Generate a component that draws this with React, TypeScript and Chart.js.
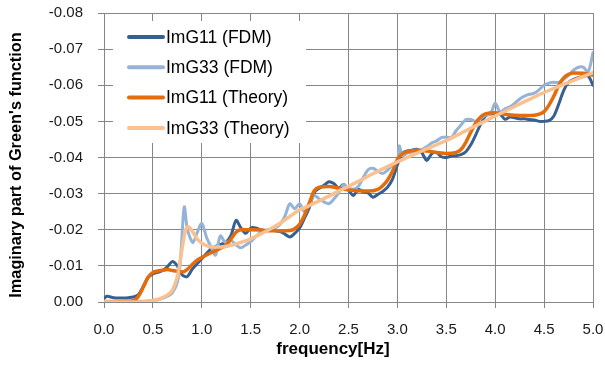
import { useEffect, useRef } from 'react';
import { Chart, registerables } from 'chart.js';

Chart.register(...registerables);

const FONT = '"Liberation Sans", Arial, sans-serif';

const xTitle = 'frequency[Hz]';
const yTitle = "Imaginary part of Green's function";
const seriesLabels = ['ImG11 (FDM)', 'ImG33 (FDM)', 'ImG11 (Theory)', 'ImG33 (Theory)'];
const seriesColors = ['#376092', '#95B3D7', '#E46C0A', '#FAC090'];

const freqG11FDM = [0.00,0.03,0.05,0.10,0.15,0.20,0.25,0.30,0.35,0.40,0.45,0.50,0.55,0.60,0.65,0.70,0.75,0.80,0.85,0.90,0.95,1.00,1.05,1.10,1.15,1.20,1.25,1.30,1.35,1.40,1.45,1.50,1.55,1.60,1.65,1.70,1.75,1.80,1.85,1.90,1.95,2.00,2.05,2.10,2.15,2.20,2.25,2.30,2.35,2.40,2.45,2.50,2.55,2.60,2.65,2.70,2.75,2.80,2.85,2.90,2.95,3.00,3.05,3.10,3.15,3.20,3.25,3.30,3.35,3.40,3.45,3.50,3.55,3.60,3.65,3.70,3.75,3.80,3.85,3.90,3.95,4.00,4.05,4.10,4.15,4.20,4.25,4.30,4.35,4.40,4.45,4.50,4.55,4.60,4.65,4.70,4.75,4.80,4.85,4.90,4.95,5.00];
const imG11FDM = [-0.0010,-0.0016,-0.0015,-0.0012,-0.0011,-0.0011,-0.0012,-0.0014,-0.0020,-0.0042,-0.0068,-0.0078,-0.0082,-0.0087,-0.0098,-0.0112,-0.0100,-0.0075,-0.0070,-0.0090,-0.0105,-0.0120,-0.0135,-0.0148,-0.0155,-0.0160,-0.0166,-0.0185,-0.0226,-0.0205,-0.0190,-0.0205,-0.0205,-0.0200,-0.0198,-0.0200,-0.0197,-0.0195,-0.0188,-0.0180,-0.0190,-0.0205,-0.0232,-0.0262,-0.0303,-0.0315,-0.0323,-0.0333,-0.0328,-0.0315,-0.0325,-0.0310,-0.0295,-0.0312,-0.0305,-0.0302,-0.0290,-0.0298,-0.0306,-0.0318,-0.0340,-0.0380,-0.0412,-0.0418,-0.0420,-0.0423,-0.0413,-0.0392,-0.0410,-0.0414,-0.0402,-0.0400,-0.0404,-0.0405,-0.0408,-0.0416,-0.0435,-0.0462,-0.0492,-0.0515,-0.0520,-0.0522,-0.0520,-0.0506,-0.0512,-0.0510,-0.0507,-0.0507,-0.0505,-0.0504,-0.0500,-0.0500,-0.0502,-0.0515,-0.0548,-0.0585,-0.0608,-0.0616,-0.0621,-0.0624,-0.0626,-0.0600];

const freqG33FDM = [0.00,0.10,0.20,0.30,0.40,0.45,0.50,0.55,0.60,0.65,0.70,0.75,0.78,0.82,0.85,0.88,0.91,0.95,1.00,1.05,1.10,1.14,1.19,1.24,1.30,1.35,1.40,1.45,1.50,1.55,1.60,1.65,1.70,1.75,1.80,1.85,1.90,1.95,2.00,2.05,2.10,2.15,2.20,2.25,2.30,2.35,2.40,2.45,2.50,2.55,2.60,2.65,2.70,2.75,2.80,2.85,2.90,2.95,3.00,3.02,3.05,3.10,3.15,3.20,3.25,3.30,3.35,3.40,3.45,3.50,3.55,3.60,3.65,3.70,3.75,3.80,3.85,3.90,3.95,4.00,4.05,4.10,4.15,4.20,4.25,4.30,4.35,4.40,4.45,4.50,4.55,4.60,4.65,4.70,4.75,4.80,4.85,4.90,4.95,5.00];
const imG33FDM = [-0.0002,-0.0002,-0.0002,-0.0002,-0.0002,-0.0003,-0.0004,-0.0006,-0.0010,-0.0016,-0.0026,-0.0055,-0.0110,-0.0263,-0.0205,-0.0178,-0.0165,-0.0190,-0.0218,-0.0178,-0.0150,-0.0130,-0.0183,-0.0165,-0.0170,-0.0158,-0.0150,-0.0158,-0.0167,-0.0180,-0.0193,-0.0198,-0.0200,-0.0205,-0.0215,-0.0238,-0.0272,-0.0258,-0.0272,-0.0250,-0.0270,-0.0295,-0.0285,-0.0277,-0.0272,-0.0285,-0.0302,-0.0325,-0.0315,-0.0312,-0.0320,-0.0344,-0.0366,-0.0370,-0.0362,-0.0356,-0.0365,-0.0380,-0.0392,-0.0432,-0.0405,-0.0412,-0.0415,-0.0420,-0.0422,-0.0430,-0.0440,-0.0446,-0.0455,-0.0457,-0.0455,-0.0474,-0.0490,-0.0505,-0.0505,-0.0500,-0.0508,-0.0517,-0.0520,-0.0550,-0.0526,-0.0535,-0.0540,-0.0550,-0.0562,-0.0570,-0.0575,-0.0578,-0.0588,-0.0600,-0.0606,-0.0608,-0.0608,-0.0617,-0.0628,-0.0642,-0.0650,-0.0650,-0.0637,-0.0690];

const freqG11Theory = [0.00,0.10,0.20,0.30,0.35,0.40,0.45,0.50,0.55,0.60,0.65,0.70,0.75,0.80,0.85,0.90,0.95,1.00,1.10,1.20,1.25,1.30,1.35,1.40,1.50,1.60,1.70,1.80,1.90,1.95,2.00,2.05,2.10,2.15,2.20,2.30,2.40,2.50,2.60,2.70,2.80,2.85,2.90,2.95,3.00,3.05,3.10,3.20,3.30,3.40,3.50,3.60,3.65,3.70,3.75,3.80,3.85,3.90,4.00,4.10,4.20,4.30,4.40,4.45,4.50,4.55,4.60,4.65,4.70,4.75,4.80,4.90,5.00];
const imG11Theory = [0,0,-0.0001,-0.0004,-0.0015,-0.0040,-0.0068,-0.0082,-0.0086,-0.0088,-0.0090,-0.0087,-0.0085,-0.0083,-0.0090,-0.0103,-0.0115,-0.0123,-0.0137,-0.0150,-0.0158,-0.0175,-0.0193,-0.0200,-0.0200,-0.0199,-0.0197,-0.0197,-0.0198,-0.0203,-0.0215,-0.0240,-0.0275,-0.0308,-0.0318,-0.0320,-0.0315,-0.0310,-0.0308,-0.0307,-0.0312,-0.0322,-0.0338,-0.0362,-0.0395,-0.0410,-0.0416,-0.0420,-0.0418,-0.0414,-0.0411,-0.0414,-0.0422,-0.0442,-0.0470,-0.0495,-0.0512,-0.0521,-0.0524,-0.0520,-0.0517,-0.0516,-0.0517,-0.0520,-0.0527,-0.0545,-0.0570,-0.0600,-0.0620,-0.0630,-0.0634,-0.0633,-0.0628];

const freqG33Theory = [0.00,0.20,0.40,0.50,0.55,0.60,0.65,0.70,0.75,0.80,0.83,0.86,0.90,0.95,1.00,1.05,1.10,1.20,1.30,1.40,1.50,1.60,1.70,1.80,1.90,2.00,2.10,2.20,2.30,2.40,2.50,2.75,3.00,3.25,3.50,3.75,4.00,4.25,4.50,4.75,5.00];
const imG33Theory = [0,0,-0.0001,-0.0004,-0.0007,-0.0012,-0.0020,-0.0033,-0.0070,-0.0150,-0.0195,-0.0208,-0.0197,-0.0175,-0.0163,-0.0156,-0.0152,-0.0152,-0.0157,-0.0165,-0.0175,-0.0188,-0.0202,-0.0218,-0.0237,-0.0255,-0.0267,-0.0280,-0.0293,-0.0307,-0.0320,-0.0355,-0.0388,-0.0418,-0.0447,-0.0481,-0.0515,-0.0548,-0.0580,-0.0608,-0.0635];

const toPoints = (xs: number[], ys: number[]) => xs.map((x, i) => ({ x, y: ys[i] }));

const overlayPlugin = {
  id: 'overlay',
  afterDatasetsDraw(chart: any) {
    const { ctx, chartArea } = chart;
    ctx.save();
    const bx = chartArea.left + 9;
    const by = chartArea.top + 8;
    ctx.fillStyle = '#ffffff';
    ctx.fillRect(bx, by, 193, 122);
    ctx.font = `17.5px ${FONT}`;
    ctx.textAlign = 'left';
    ctx.textBaseline = 'middle';
    chart.data.datasets.forEach((ds: any, i: number) => {
      const y = by + 16 + i * 30.3;
      ctx.strokeStyle = ds.borderColor;
      ctx.lineWidth = 4;
      ctx.lineCap = 'round';
      ctx.beginPath();
      ctx.moveTo(bx + 16, y);
      ctx.lineTo(bx + 50, y);
      ctx.stroke();
      ctx.fillStyle = '#000000';
      ctx.fillText(ds.label, bx + 53, y + 1);
    });
    ctx.restore();
  },
  afterDraw(chart: any) {
    const { ctx } = chart;
    ctx.save();
    ctx.fillStyle = '#000000';
    ctx.textAlign = 'center';
    ctx.textBaseline = 'middle';
    ctx.font = `bold 17px ${FONT}`;
    ctx.fillText(xTitle, 333, 349);
    ctx.translate(17, 165);
    ctx.rotate(-Math.PI / 2);
    ctx.font = `bold 16.3px ${FONT}`;
    ctx.fillText(yTitle, 0, 0);
    ctx.restore();
  },
};

export default function App() {
  const ref = useRef<HTMLCanvasElement>(null);
  useEffect(() => {
    const lineData = [
      toPoints(freqG11FDM, imG11FDM),
      toPoints(freqG33FDM, imG33FDM),
      toPoints(freqG11Theory, imG11Theory),
      toPoints(freqG33Theory, imG33Theory),
    ];
    const widths = [3, 3, 3.5, 3.5];
    const orders = [3, 2, 1, 0];
    const chart = new Chart(ref.current!, {
      type: 'line',
      data: {
        datasets: lineData.map((d, i) => ({
          label: seriesLabels[i],
          data: d,
          borderColor: seriesColors[i],
          backgroundColor: seriesColors[i],
          borderWidth: widths[i],
          pointRadius: 0,
          fill: false,
          order: orders[i],
          tension: i < 2 ? 0.3 : 0.4,
          cubicInterpolationMode: i < 2 ? 'default' : 'monotone',
          borderCapStyle: 'round',
          borderJoinStyle: 'round',
        })),
      },
      options: {
        responsive: false,
        animation: false,
        devicePixelRatio: 1,
        layout: { padding: { left: 0, right: 12, top: 13, bottom: 0 } },
        plugins: { legend: { display: false }, tooltip: { enabled: false } },
        scales: {
          x: {
            type: 'linear',
            min: 0,
            max: 5,
            afterFit: (s: any) => {
              s.height = 64;
              s.paddingLeft = 0;
              s.paddingRight = 0;
            },
            ticks: {
              stepSize: 0.5,
              padding: 13,
              color: '#1a1a1a',
              font: { family: FONT, size: 15 },
              callback: (v: any) => Number(v).toFixed(1),
            },
            grid: { color: '#868686', lineWidth: 1, tickLength: 6 },
            border: { color: '#868686' },
          },
          y: {
            type: 'linear',
            reverse: true,
            min: -0.08,
            max: 0,
            afterFit: (s: any) => {
              s.width = 104;
              s.paddingTop = 0;
              s.paddingBottom = 0;
            },
            ticks: {
              stepSize: 0.01,
              padding: 15,
              color: '#1a1a1a',
              font: { family: FONT, size: 15 },
              callback: (v: any) => Number(v).toFixed(2),
            },
            grid: { color: '#868686', lineWidth: 1, tickLength: 6 },
            border: { color: '#868686' },
          },
        },
      },
      plugins: [overlayPlugin],
    } as any);
    return () => chart.destroy();
  }, []);
  return (
    <div style={{ position: 'fixed', left: 0, top: 0, width: 605, height: 366, background: '#ffffff' }}>
      <canvas ref={ref} width={605} height={366} style={{ display: 'block', width: 605, height: 366 }} />
    </div>
  );
}
